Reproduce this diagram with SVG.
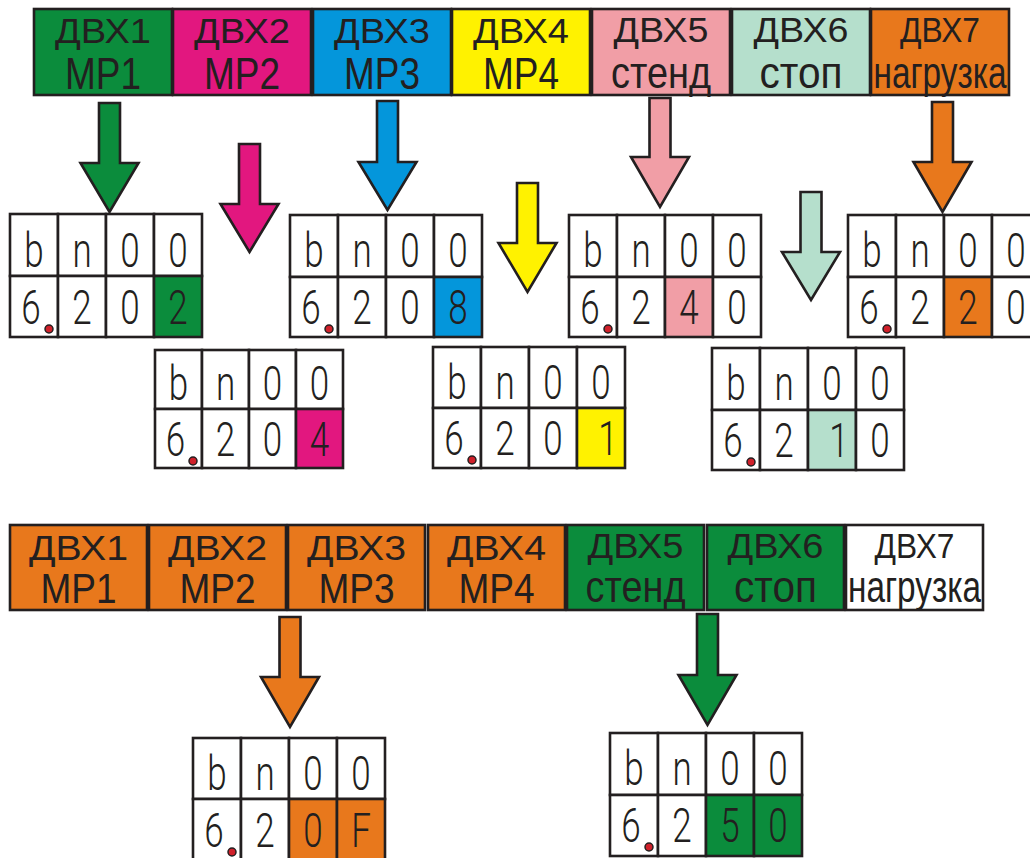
<svg xmlns="http://www.w3.org/2000/svg" width="1030" height="858" viewBox="0 0 1030 858">
<style>
.bx{stroke:#231f20;stroke-width:2.6}
.cell{fill:#fff;stroke:#231f20;stroke-width:2.6}
.ar{stroke:#231f20;stroke-width:2.6;stroke-linejoin:miter}
.g{fill:#0b8c3c}.m{fill:#e2177f}.b{fill:#0496db}.y{fill:#fff200}.p{fill:#f19ea6}.mi{fill:#b5dfcc}.o{fill:#e8781c}.w{fill:#fff}
.t1{font-family:"Liberation Sans",Arial,sans-serif;font-size:35px;fill:#231f20;text-anchor:middle}
.t2{font-family:"Liberation Sans",Arial,sans-serif;font-size:37px;fill:#231f20;text-anchor:middle}
.d{font-family:Roboto,"DejaVu Sans",sans-serif;font-weight:300;font-size:35px;fill:#231f20;text-anchor:middle}
.dp{fill:#d0202a;stroke:#231f20;stroke-width:1.5}
</style>

<!-- top row -->
<g id="top-dvx1"><rect class="bx g" x="34" y="9" width="138" height="86"/><text class="t1" x="103" y="43" textLength="96" lengthAdjust="spacingAndGlyphs">ДВХ1</text><text class="t2" transform="translate(103,89) scale(1,1.18)">МР1</text></g>
<g id="top-dvx2"><rect class="bx m" x="173" y="9" width="138" height="86"/><text class="t1" x="242" y="43" textLength="96" lengthAdjust="spacingAndGlyphs">ДВХ2</text><text class="t2" transform="translate(242,89) scale(1,1.18)">МР2</text></g>
<g id="top-dvx3"><rect class="bx b" x="313" y="9" width="138" height="86"/><text class="t1" x="382" y="43" textLength="96" lengthAdjust="spacingAndGlyphs">ДВХ3</text><text class="t2" transform="translate(382,89) scale(1,1.18)">МР3</text></g>
<g id="top-dvx4"><rect class="bx y" x="452" y="9" width="138" height="86"/><text class="t1" x="521" y="43" textLength="96" lengthAdjust="spacingAndGlyphs">ДВХ4</text><text class="t2" transform="translate(521,89) scale(1,1.18)">МР4</text></g>
<g id="top-dvx5"><rect class="bx p" x="592" y="9" width="138" height="86"/><text class="t1" x="661" y="42" textLength="95" lengthAdjust="spacingAndGlyphs">ДВХ5</text><text class="t2" transform="translate(661,88) scale(1,1.22)" textLength="100" lengthAdjust="spacingAndGlyphs">стенд</text></g>
<g id="top-dvx6"><rect class="bx mi" x="732" y="9" width="138" height="86"/><text class="t1" x="801" y="42" textLength="95" lengthAdjust="spacingAndGlyphs">ДВХ6</text><text class="t2" transform="translate(801,88) scale(1,1.22)" textLength="83" lengthAdjust="spacingAndGlyphs">стоп</text></g>
<g id="top-dvx7"><rect class="bx o" x="871" y="9" width="138" height="86"/><text class="t1" x="940" y="42" textLength="80" lengthAdjust="spacingAndGlyphs">ДВХ7</text><text class="t2" transform="translate(940,88) scale(1,1.22)" textLength="133" lengthAdjust="spacingAndGlyphs">нагрузка</text></g>

<!-- bottom row -->
<g id="bot-dvx1"><rect class="bx o" x="10" y="525" width="137" height="85"/><text class="t1" x="78.5" y="560" textLength="99" lengthAdjust="spacingAndGlyphs">ДВХ1</text><text class="t2" transform="translate(78.5,603) scale(1,1.16)">МР1</text></g>
<g id="bot-dvx2"><rect class="bx o" x="149" y="525" width="137" height="85"/><text class="t1" x="217.5" y="560" textLength="99" lengthAdjust="spacingAndGlyphs">ДВХ2</text><text class="t2" transform="translate(217.5,603) scale(1,1.16)">МР2</text></g>
<g id="bot-dvx3"><rect class="bx o" x="288" y="525" width="137" height="85"/><text class="t1" x="356.5" y="560" textLength="99" lengthAdjust="spacingAndGlyphs">ДВХ3</text><text class="t2" transform="translate(356.5,603) scale(1,1.16)">МР3</text></g>
<g id="bot-dvx4"><rect class="bx o" x="428" y="525" width="137" height="85"/><text class="t1" x="496.5" y="560" textLength="99" lengthAdjust="spacingAndGlyphs">ДВХ4</text><text class="t2" transform="translate(496.5,603) scale(1,1.16)">МР4</text></g>
<g id="bot-dvx5"><rect class="bx g" x="567" y="525" width="137" height="85"/><text class="t1" x="635.5" y="558" textLength="96" lengthAdjust="spacingAndGlyphs">ДВХ5</text><text class="t2" transform="translate(635.5,602) scale(1,1.22)" textLength="100" lengthAdjust="spacingAndGlyphs">стенд</text></g>
<g id="bot-dvx6"><rect class="bx g" x="707" y="525" width="137" height="85"/><text class="t1" x="775.5" y="558" textLength="96" lengthAdjust="spacingAndGlyphs">ДВХ6</text><text class="t2" transform="translate(775.5,602) scale(1,1.22)" textLength="83" lengthAdjust="spacingAndGlyphs">стоп</text></g>
<g id="bot-dvx7"><rect class="bx w" x="846" y="525" width="137" height="85"/><text class="t1" x="914.5" y="558" textLength="80" lengthAdjust="spacingAndGlyphs">ДВХ7</text><text class="t2" transform="translate(914.5,602) scale(1,1.22)" textLength="133" lengthAdjust="spacingAndGlyphs">нагрузка</text></g>

<!-- connectors (arrows) -->
<g id="connectors">
<polygon class="ar g" points="99,103 120,103 120,163 138.5,163 109.5,212 80.5,163 99,163"/>
<polygon class="ar m" points="239,144 260,144 260,204 278.5,204 249.5,252 220.5,204 239,204"/>
<polygon class="ar b" points="377,101 398,101 398,162 416.5,162 387.5,210 358.5,162 377,162"/>
<polygon class="ar y" points="517,183 538,183 538,243 556.5,243 527.5,292 498.5,243 517,243"/>
<polygon class="ar p" points="649.5,98 670.5,98 670.5,157 689,157 660,207 631,157 649.5,157"/>
<polygon class="ar mi" points="800.5,192 821.5,192 821.5,252 840,252 811,300 782,252 800.5,252"/>
<polygon class="ar o" points="932,102 953,102 953,162 971.5,162 942.5,212 913.5,162 932,162"/>
<polygon class="ar o" points="279.5,617 300.5,617 300.5,677 319,677 290,727 261,677 279.5,677"/>
<polygon class="ar g" points="697,614 718,614 718,675 736.5,675 707.5,725 678.5,675 697,675"/>
</g>

<!-- displays -->
<g id="display-a" transform="translate(10,214)">
<rect class="cell" x="0" y="0" width="48" height="62"/><rect class="cell" x="48" y="0" width="48" height="62"/><rect class="cell" x="96" y="0" width="48" height="62"/><rect class="cell" x="144" y="0" width="48" height="62"/>
<rect class="cell" x="0" y="62" width="48" height="61"/><rect class="cell" x="48" y="62" width="48" height="61"/><rect class="cell" x="96" y="62" width="48" height="61"/><rect class="cell g" x="144" y="62" width="48" height="61"/>
<text class="d" transform="translate(24,53) scale(1,1.4)">b</text><text class="d" transform="translate(72,53) scale(1,1.4)">n</text><text class="d" transform="translate(120,53) scale(1,1.4)">0</text><text class="d" transform="translate(168,53) scale(1,1.4)">0</text>
<text class="d" transform="translate(21,110) scale(1,1.4)">6</text><text class="d" transform="translate(72,110) scale(1,1.4)">2</text><text class="d" transform="translate(120,110) scale(1,1.4)">0</text><text class="d" transform="translate(168,110) scale(1,1.4)">2</text>
<circle class="dp" cx="39" cy="115" r="4"/>
</g>

<g id="display-b" transform="translate(155,350)">
<rect class="cell" x="0" y="0" width="47" height="59"/><rect class="cell" x="47" y="0" width="47" height="59"/><rect class="cell" x="94" y="0" width="47" height="59"/><rect class="cell" x="141" y="0" width="47" height="59"/>
<rect class="cell" x="0" y="59" width="47" height="59"/><rect class="cell" x="47" y="59" width="47" height="59"/><rect class="cell" x="94" y="59" width="47" height="59"/><rect class="cell m" x="141" y="59" width="47" height="59"/>
<text class="d" transform="translate(23.5,50) scale(1,1.35)">b</text><text class="d" transform="translate(70.5,50) scale(1,1.35)">n</text><text class="d" transform="translate(117.5,50) scale(1,1.35)">0</text><text class="d" transform="translate(164.5,50) scale(1,1.35)">0</text>
<text class="d" transform="translate(20.5,106) scale(1,1.35)">6</text><text class="d" transform="translate(70.5,106) scale(1,1.35)">2</text><text class="d" transform="translate(117.5,106) scale(1,1.35)">0</text><text class="d" transform="translate(164.5,106) scale(1,1.35)">4</text>
<circle class="dp" cx="38" cy="111" r="4"/>
</g>

<g id="display-c" transform="translate(290,215)">
<rect class="cell" x="0" y="0" width="48" height="62"/><rect class="cell" x="48" y="0" width="48" height="62"/><rect class="cell" x="96" y="0" width="48" height="62"/><rect class="cell" x="144" y="0" width="48" height="62"/>
<rect class="cell" x="0" y="62" width="48" height="60"/><rect class="cell" x="48" y="62" width="48" height="60"/><rect class="cell" x="96" y="62" width="48" height="60"/><rect class="cell b" x="144" y="62" width="48" height="60"/>
<text class="d" transform="translate(24,52) scale(1,1.4)">b</text><text class="d" transform="translate(72,52) scale(1,1.4)">n</text><text class="d" transform="translate(120,52) scale(1,1.4)">0</text><text class="d" transform="translate(168,52) scale(1,1.4)">0</text>
<text class="d" transform="translate(21,109) scale(1,1.4)">6</text><text class="d" transform="translate(72,109) scale(1,1.4)">2</text><text class="d" transform="translate(120,109) scale(1,1.4)">0</text><text class="d" transform="translate(168,109) scale(1,1.4)">8</text>
<circle class="dp" cx="39" cy="114" r="4"/>
</g>

<g id="display-d" transform="translate(433,347)">
<rect class="cell" x="0" y="0" width="48" height="61"/><rect class="cell" x="48" y="0" width="48" height="61"/><rect class="cell" x="96" y="0" width="48" height="61"/><rect class="cell" x="144" y="0" width="48" height="61"/>
<rect class="cell" x="0" y="61" width="48" height="60"/><rect class="cell" x="48" y="61" width="48" height="60"/><rect class="cell" x="96" y="61" width="48" height="60"/><rect class="cell y" x="144" y="61" width="48" height="60"/>
<text class="d" transform="translate(24,52) scale(1,1.4)">b</text><text class="d" transform="translate(72,52) scale(1,1.4)">n</text><text class="d" transform="translate(120,52) scale(1,1.4)">0</text><text class="d" transform="translate(168,52) scale(1,1.4)">0</text>
<text class="d" transform="translate(21,108) scale(1,1.4)">6</text><text class="d" transform="translate(72,108) scale(1,1.4)">2</text><text class="d" transform="translate(120,108) scale(1,1.4)">0</text><text class="d" transform="translate(175,108) scale(1,1.4)">1</text>
<circle class="dp" cx="39" cy="113" r="4"/>
</g>

<g id="display-e" transform="translate(569,215)">
<rect class="cell" x="0" y="0" width="48" height="62"/><rect class="cell" x="48" y="0" width="48" height="62"/><rect class="cell" x="96" y="0" width="48" height="62"/><rect class="cell" x="144" y="0" width="48" height="62"/>
<rect class="cell" x="0" y="62" width="48" height="60"/><rect class="cell" x="48" y="62" width="48" height="60"/><rect class="cell p" x="96" y="62" width="48" height="60"/><rect class="cell" x="144" y="62" width="48" height="60"/>
<text class="d" transform="translate(24,52) scale(1,1.4)">b</text><text class="d" transform="translate(72,52) scale(1,1.4)">n</text><text class="d" transform="translate(120,52) scale(1,1.4)">0</text><text class="d" transform="translate(168,52) scale(1,1.4)">0</text>
<text class="d" transform="translate(21,109) scale(1,1.4)">6</text><text class="d" transform="translate(72,109) scale(1,1.4)">2</text><text class="d" transform="translate(120,109) scale(1,1.4)">4</text><text class="d" transform="translate(168,109) scale(1,1.4)">0</text>
<circle class="dp" cx="39" cy="114" r="4"/>
</g>

<g id="display-f" transform="translate(848,215)">
<rect class="cell" x="0" y="0" width="48" height="62"/><rect class="cell" x="48" y="0" width="48" height="62"/><rect class="cell" x="96" y="0" width="48" height="62"/><rect class="cell" x="144" y="0" width="48" height="62"/>
<rect class="cell" x="0" y="62" width="48" height="60"/><rect class="cell" x="48" y="62" width="48" height="60"/><rect class="cell o" x="96" y="62" width="48" height="60"/><rect class="cell" x="144" y="62" width="48" height="60"/>
<text class="d" transform="translate(24,52) scale(1,1.4)">b</text><text class="d" transform="translate(72,52) scale(1,1.4)">n</text><text class="d" transform="translate(120,52) scale(1,1.4)">0</text><text class="d" transform="translate(168,52) scale(1,1.4)">0</text>
<text class="d" transform="translate(21,109) scale(1,1.4)">6</text><text class="d" transform="translate(72,109) scale(1,1.4)">2</text><text class="d" transform="translate(120,109) scale(1,1.4)">2</text><text class="d" transform="translate(168,109) scale(1,1.4)">0</text>
<circle class="dp" cx="39" cy="114" r="4"/>
</g>

<g id="display-g" transform="translate(712,348)">
<rect class="cell" x="0" y="0" width="48" height="62"/><rect class="cell" x="48" y="0" width="48" height="62"/><rect class="cell" x="96" y="0" width="48" height="62"/><rect class="cell" x="144" y="0" width="48" height="62"/>
<rect class="cell" x="0" y="62" width="48" height="60"/><rect class="cell" x="48" y="62" width="48" height="60"/><rect class="cell mi" x="96" y="62" width="48" height="60"/><rect class="cell" x="144" y="62" width="48" height="60"/>
<text class="d" transform="translate(24,52) scale(1,1.4)">b</text><text class="d" transform="translate(72,52) scale(1,1.4)">n</text><text class="d" transform="translate(120,52) scale(1,1.4)">0</text><text class="d" transform="translate(168,52) scale(1,1.4)">0</text>
<text class="d" transform="translate(21,109) scale(1,1.4)">6</text><text class="d" transform="translate(72,109) scale(1,1.4)">2</text><text class="d" transform="translate(127,109) scale(1,1.4)">1</text><text class="d" transform="translate(168,109) scale(1,1.4)">0</text>
<circle class="dp" cx="39" cy="114" r="4"/>
</g>

<g id="display-h" transform="translate(193,738)">
<rect class="cell" x="0" y="0" width="48" height="61"/><rect class="cell" x="48" y="0" width="48" height="61"/><rect class="cell" x="96" y="0" width="48" height="61"/><rect class="cell" x="144" y="0" width="48" height="61"/>
<rect class="cell" x="0" y="61" width="48" height="61"/><rect class="cell" x="48" y="61" width="48" height="61"/><rect class="cell o" x="96" y="61" width="48" height="61"/><rect class="cell o" x="144" y="61" width="48" height="61"/>
<text class="d" transform="translate(24,52) scale(1,1.4)">b</text><text class="d" transform="translate(72,52) scale(1,1.4)">n</text><text class="d" transform="translate(120,52) scale(1,1.4)">0</text><text class="d" transform="translate(168,52) scale(1,1.4)">0</text>
<text class="d" transform="translate(21,109) scale(1,1.4)">6</text><text class="d" transform="translate(72,109) scale(1,1.4)">2</text><text class="d" transform="translate(120,109) scale(1,1.4)">0</text><text class="d" transform="translate(168,109) scale(1,1.4)">F</text>
<circle class="dp" cx="39" cy="114" r="4"/>
</g>

<g id="display-i" transform="translate(610,733)">
<rect class="cell" x="0" y="0" width="48" height="62"/><rect class="cell" x="48" y="0" width="48" height="62"/><rect class="cell" x="96" y="0" width="48" height="62"/><rect class="cell" x="144" y="0" width="48" height="62"/>
<rect class="cell" x="0" y="62" width="48" height="61"/><rect class="cell" x="48" y="62" width="48" height="61"/><rect class="cell g" x="96" y="62" width="48" height="61"/><rect class="cell g" x="144" y="62" width="48" height="61"/>
<text class="d" transform="translate(24,52) scale(1,1.4)">b</text><text class="d" transform="translate(72,52) scale(1,1.4)">n</text><text class="d" transform="translate(120,52) scale(1,1.4)">0</text><text class="d" transform="translate(168,52) scale(1,1.4)">0</text>
<text class="d" transform="translate(21,109) scale(1,1.4)">6</text><text class="d" transform="translate(72,109) scale(1,1.4)">2</text><text class="d" transform="translate(120,109) scale(1,1.4)">5</text><text class="d" transform="translate(168,109) scale(1,1.4)">0</text>
<circle class="dp" cx="39" cy="114" r="4"/>
</g>
</svg>
